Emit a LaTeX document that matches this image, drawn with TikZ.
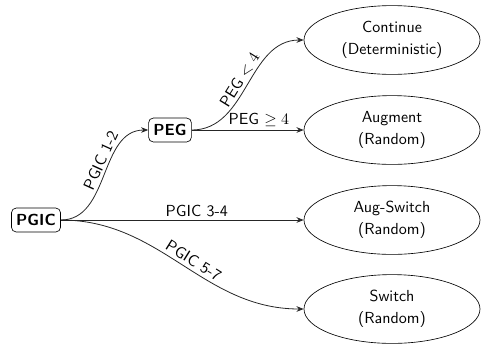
\documentclass[tikz,border=0pt]{standalone}
\usetikzlibrary{arrows.meta,shapes.geometric}
\begin{document}
\begin{tikzpicture}[x=0.625pt,y=-0.625pt,
  font=\sffamily,
  decision/.style={draw, rounded corners=3pt, font=\sffamily\bfseries, inner sep=3pt, minimum height=15pt},
  outcome/.style={draw, ellipse, minimum width=110pt, minimum height=43pt, align=center, inner sep=0pt},
  flow/.style={draw=black!85, line width=0.5pt, -{Stealth[length=4.5pt,width=3.5pt]}},
  lbl/.style={font=\sffamily, inner sep=2pt}]
  \useasboundingbox (0,0) rectangle (481,344);
  % decision points
  \node[decision] (pgic) at (36,220) {PGIC};
  \node[decision] (peg) at (170,130) {PEG};
  % outcomes
  \node[outcome] (cont) at (392,40) {Continue\\[2pt](Deterministic)};
  \node[outcome] (aug) at (392,130) {Augment\\[2pt](Random)};
  \node[outcome] (augsw) at (392,220) {Aug-Switch\\[2pt](Random)};
  \node[outcome] (sw) at (392,309) {Switch\\[2pt](Random)};
  % branches
  \draw[flow] (pgic.east) to[out=0,in=180] node[lbl, sloped, above, pos=0.58] {PGIC 1-2} (peg.west);
  \draw[flow] (pgic.east) -- node[lbl, above, pos=0.56] {PGIC 3-4} (augsw.west);
  \draw[flow] (pgic.east) to[out=0,in=180] node[lbl, sloped, above, pos=0.53] {PGIC 5-7} (sw.west);
  \draw[flow] (peg.east) to[out=0,in=180] node[lbl, sloped, above, pos=0.5] {PEG $<4$} (cont.west);
  \draw[flow] (peg.east) -- node[lbl, above, pos=0.6] {PEG $\geq 4$} (aug.west);
\end{tikzpicture}
\end{document}
